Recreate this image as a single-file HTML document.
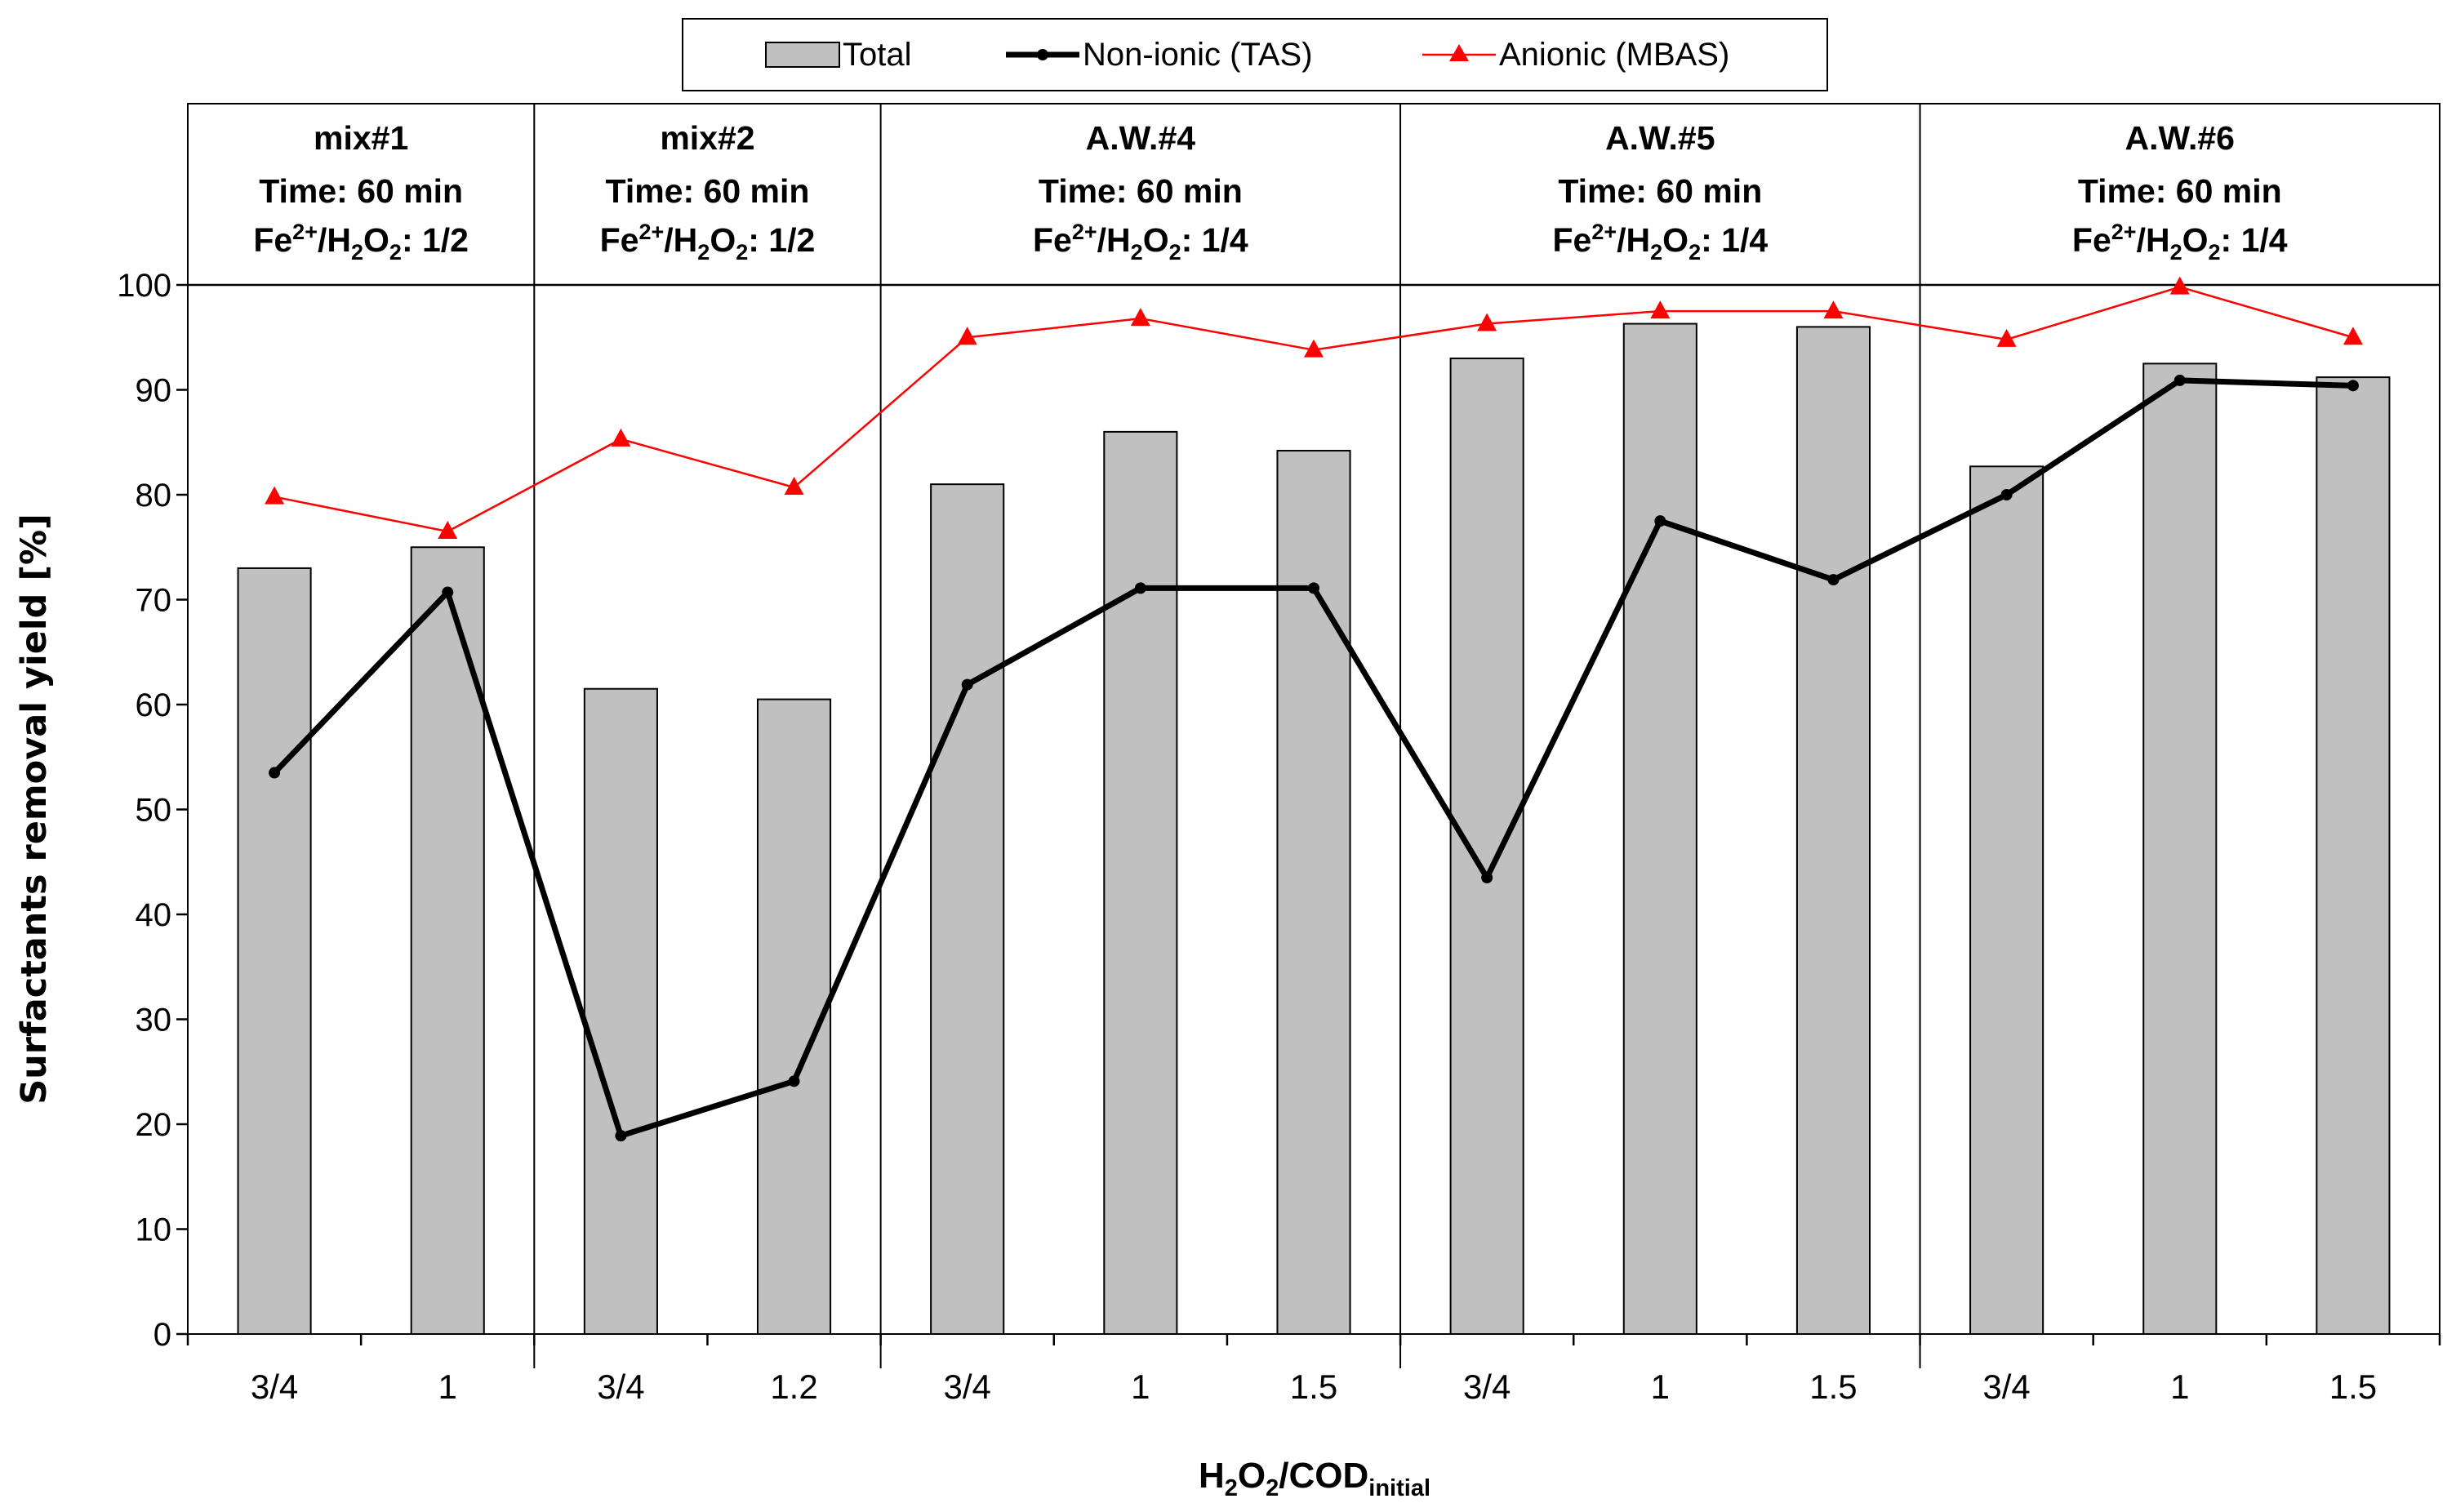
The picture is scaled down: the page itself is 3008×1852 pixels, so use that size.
<!DOCTYPE html>
<html><head><meta charset="utf-8"><style>
html,body{margin:0;padding:0;background:#fff}
svg{display:block}
text{font-family:"Liberation Sans",sans-serif;fill:#000}
</style></head><body>
<svg id="chart" width="3008" height="1852" viewBox="0 0 3008 1852" xmlns="http://www.w3.org/2000/svg">
<g id="legend">
<rect x="836" y="23" width="1402" height="88" fill="#fff" stroke="#000" stroke-width="2"/>
<g><rect x="938" y="52" width="90" height="30" fill="#c0c0c0" stroke="#000" stroke-width="2"/><text x="1032" y="80" font-size="40">Total</text></g>
<g><line x1="1232" y1="67" x2="1322" y2="67" stroke="#000" stroke-width="7"/><circle cx="1277" cy="67" r="7"/><text x="1326" y="80" font-size="40">Non-ionic (TAS)</text></g>
<g><line x1="1742" y1="67" x2="1832" y2="67" stroke="#f00" stroke-width="2.5"/><polygon points="1787,54 1799,75 1775,75" fill="#f00"/><text x="1836" y="80" font-size="40">Anionic (MBAS)</text></g>
</g>
<g id="plot"></g>
</svg>
<script>
const categories=["3/4","1","3/4","1.2","3/4","1","1.5","3/4","1","1.5","3/4","1","1.5"];
const totalValues=[73,75,61.5,60.5,81,86,84.2,93,96.3,96,82.7,92.5,91.2];
const tasValues=[53.5,70.7,18.9,24.1,61.9,71.1,71.1,43.5,77.5,71.9,80,90.9,90.4];
const mbasValues=[79.8,76.5,85.3,80.7,95,96.8,93.8,96.3,97.5,97.5,94.8,99.8,95];
const yTicks=[0,10,20,30,40,50,60,70,80,90,100];
const groupNames=["mix#1","mix#2","A.W.#4","A.W.#5","A.W.#6"];
const groupRatios=["1/2","1/2","1/4","1/4","1/4"];
const groupSizes=[2,2,3,3,3];

const NS="http://www.w3.org/2000/svg";
const g=document.getElementById('plot');
const L=230,R=2988,T=349,B=1634,HT=127;
const n=categories.length, cw=(R-L)/n;
const xc=i=>L+cw*(i+0.5);
const y=v=>B-(v/100)*(B-T);
function mk(tag,a,p){const e=document.createElementNS(NS,tag);for(const k in a)e.setAttribute(k,a[k]);(p||g).appendChild(e);return e;}

const frame=mk('rect',{x:L,y:HT,width:R-L,height:B-HT,fill:'none',stroke:'#000','stroke-width':2});


const hl=mk('line',{x1:L,y1:T,x2:R,y2:T,stroke:'#000','stroke-width':2.5});



yTicks.forEach(v=>{
  const t=mk('line',{x1:L-14,y1:y(v),x2:L,y2:y(v),stroke:'#000','stroke-width':2.5});
  
  
  const lb=mk('text',{x:L-20,y:y(v)+14,'font-size':40,'text-anchor':'end'});
  lb.textContent=v;
  
  
});
for(let i=0;i<=n;i++){
  const t=mk('line',{x1:L+cw*i,y1:B,x2:L+cw*i,y2:B+14,stroke:'#000','stroke-width':2.5});
  
  
}
let s=0;
groupSizes.forEach((sz,gi)=>{
  const x0=L+cw*s, x1=L+cw*(s+sz), cx=(x0+x1)/2;
  if(s>0){
    const d=mk('line',{x1:x0,y1:HT,x2:x0,y2:B+42,stroke:'#000','stroke-width':2});
    
    
  }
  const t=mk('text',{x:cx,y:0,'font-size':41,'font-weight':'bold','text-anchor':'middle'});
  
  
  t.innerHTML=`<tspan x="${cx}" y="183">${groupNames[gi]}</tspan><tspan x="${cx}" y="248">Time: 60 min</tspan><tspan x="${cx}" y="308">Fe<tspan font-size="27" dy="-15">2+</tspan><tspan dy="15">/H</tspan><tspan font-size="27" dy="10">2</tspan><tspan dy="-10">O</tspan><tspan font-size="27" dy="10">2</tspan><tspan dy="-10">: ${groupRatios[gi]}</tspan></tspan>`;
  s+=sz;
});
const bw=cw*0.42;
totalValues.forEach((v,i)=>{
  const b=mk('rect',{x:xc(i)-bw/2,y:y(v),width:bw,height:B-y(v),fill:'#c0c0c0',stroke:'#000','stroke-width':2});
  
  
});
const mp=mbasValues.map((v,i)=>xc(i)+','+y(v)).join(' ');
const ml=mk('polyline',{points:mp,fill:'none',stroke:'#f00','stroke-width':2.5});


mbasValues.forEach((v,i)=>{
  const px=xc(i),py=y(v);
  const m=mk('polygon',{points:`${px},${py-13} ${px+12},${py+9} ${px-12},${py+9}`,fill:'#f00'});
  
  
});
const tp=tasValues.map((v,i)=>xc(i)+','+y(v)).join(' ');
const tl=mk('polyline',{points:tp,fill:'none',stroke:'#000','stroke-width':7,'stroke-linejoin':'round'});


tasValues.forEach((v,i)=>{
  const c=mk('circle',{cx:xc(i),cy:y(v),r:7,fill:'#000'});
  
  
});
categories.forEach((c,i)=>{
  const t=mk('text',{x:xc(i),y:1713,'font-size':42,'text-anchor':'middle'});
  t.textContent=c;
  
  
});
const xt=mk('text',{x:1610,y:1822,'font-size':44,'font-weight':'bold','text-anchor':'middle'});
xt.innerHTML='H<tspan font-size="29" dy="10">2</tspan><tspan dy="-10">O</tspan><tspan font-size="29" dy="10">2</tspan><tspan dy="-10">/COD</tspan><tspan font-size="29" dy="10">initial</tspan>';


const yt=mk('text',{x:0,y:0,'font-size':43,'font-weight':'bold','text-anchor':'middle',transform:'translate(56,991) rotate(-90)',style:'font-family:"DejaVu Sans",sans-serif'});
yt.textContent='Surfactants removal yield [%]';


</script>
</body></html>
